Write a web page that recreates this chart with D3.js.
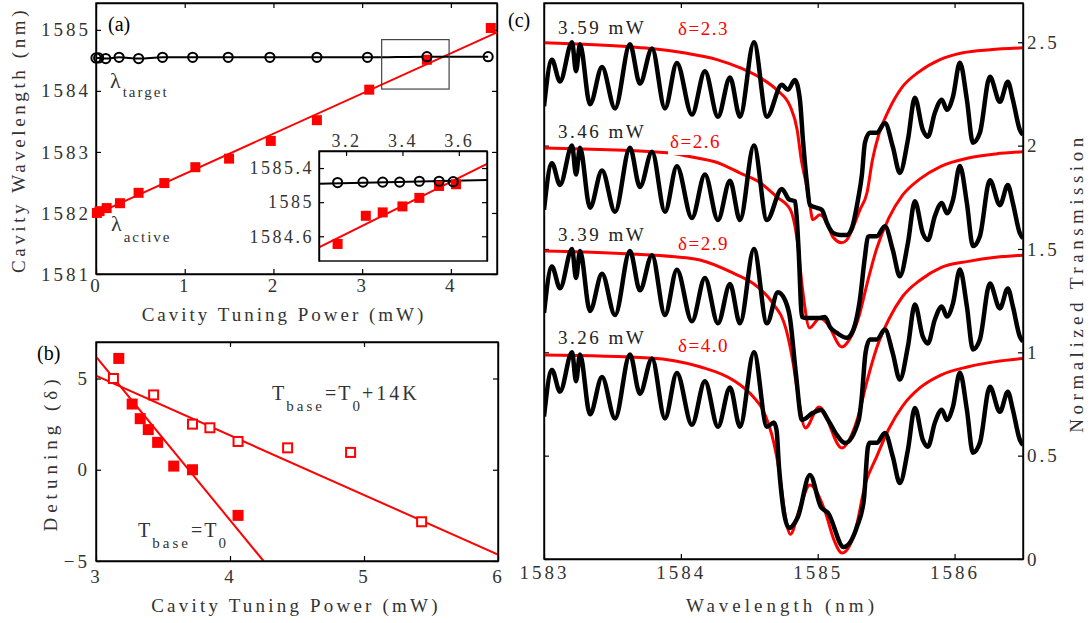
<!DOCTYPE html>
<html><head><meta charset="utf-8">
<script src="https://cdn.jsdelivr.net/npm/d3@7"></script>
<style>
body{margin:0;background:#fff;}
svg text{font-family:"Liberation Serif",serif;}
</style></head><body>
<svg id="c" width="1092" height="623"></svg>
<script>
// ---------------- DATA ----------------
// Panel (a) main
const activePower=[0.01,0.04,0.12,0.27,0.48,0.77,1.12,1.50,1.97,2.49,3.08,3.73,4.45];
const activeWL=[1582.00,1582.03,1582.08,1582.16,1582.33,1582.49,1582.75,1582.89,1583.18,1583.52,1584.02,1584.51,1585.03];
const targetPower=[0,0.03,0.11,0.26,0.48,0.75,1.09,1.49,1.96,2.49,3.06,3.73,4.42];
const targetWL=[1584.54,1584.54,1584.53,1584.55,1584.53,1584.55,1584.55,1584.55,1584.55,1584.55,1584.55,1584.56,1584.56];
const activeFitPower=[0,4.52];
const activeFitWL=[1581.98,1584.96];
const zoomBoxPower=[3.22,3.98];
const zoomBoxWL=[1584.03,1584.84];
const xTicksA=[0,1,2,3,4];
const yTicksA=[1581,1582,1583,1584,1585];
// Panel (a) inset
const insetActivePower=[3.17,3.27,3.33,3.40,3.46,3.53,3.59];
const insetActiveWL=[1584.51,1584.84,1584.88,1584.95,1585.05,1585.19,1585.21];
const insetTargetPower=[3.17,3.26,3.33,3.39,3.46,3.53,3.58];
const insetTargetWL=[1585.23,1585.235,1585.235,1585.235,1585.245,1585.245,1585.24];
const insetActiveFitPower=[3.104,3.70];
const insetActiveFitWL=[1584.47,1585.45];
const insetTargetFitPower=[3.104,3.70];
const insetTargetFitWL=[1585.215,1585.259];
const xTicksInset=[3.2,3.4,3.6];
const yTicksInset=[1584.6,1585,1585.4];
// Panel (b)
const baseT0Power=[3.17,3.27,3.33,3.39,3.46,3.58,3.72,4.06];
const baseT0Detuning=[6.1,3.6,2.8,2.2,1.5,0.2,0.0,-2.5];
const baseT14Power=[3.13,3.43,3.72,3.85,4.06,4.43,4.90,5.43];
const baseT14Detuning=[5.0,4.1,2.5,2.3,1.55,1.2,0.95,-2.85];
const fitT0Power=[3,4.25];
const fitT0Detuning=[6.2,-5];
const fitT14Power=[3,6];
const fitT14Detuning=[5.15,-4.65];
const xTicksB=[3,4,5,6];
const yTicksB=[-5,0,5];
// Panel (c): measured transmission (black), shared fringes + per-trace dip
const fringeLeft=[[1583.000,0.69],[1583.058,0.915],[1583.117,0.81],[1583.205,1.0],[1583.234,0.86],[1583.263,0.99],[1583.336,0.70],[1583.424,0.88],[1583.519,0.68],[1583.628,0.99],[1583.701,0.80],[1583.789,0.97],[1583.884,0.68],[1583.971,0.90],[1584.081,0.65],[1584.176,0.86],[1584.271,0.64],[1584.359,0.83],[1584.432,0.64],[1584.534,1.0],[1584.629,0.64]];
const fringeRight=[[1585.381,0.562],[1585.432,0.562],[1585.491,0.61],[1585.549,0.494],[1585.600,0.368],[1585.659,0.528],[1585.710,0.731],[1585.768,0.576],[1585.805,0.543],[1585.856,0.659],[1585.907,0.722],[1585.944,0.673],[1585.988,0.736],[1586.039,0.901],[1586.090,0.722],[1586.134,0.514],[1586.185,0.562],[1586.258,0.833],[1586.331,0.712],[1586.389,0.809],[1586.426,0.722],[1586.477,0.576],[1586.500,0.552]];
const dip359=[[1584.738,0.794],[1584.782,0.77],[1584.833,0.818],[1584.870,0.722],[1584.892,0.528],[1584.921,0.32],[1584.943,0.213],[1584.994,0.199],[1585.031,0.189],[1585.067,0.126],[1585.111,0.078],[1585.162,0.068],[1585.213,0.068],[1585.250,0.102],[1585.294,0.238],[1585.323,0.359],[1585.345,0.514]];
const dip346=[[1584.738,0.79],[1584.79,0.74],[1584.835,0.73],[1584.86,0.50],[1584.885,0.171],[1584.921,0.166],[1585.016,0.166],[1585.053,0.171],[1585.089,0.123],[1585.14,0.094],[1585.213,0.07],[1585.25,0.094],[1585.308,0.254],[1585.345,0.462],[1585.367,0.559]];
const dip339=[[1584.709,0.79],[1584.76,0.754],[1584.797,0.667],[1584.84,0.40],[1584.885,0.173],[1584.965,0.207],[1585.023,0.221],[1585.075,0.173],[1585.13,0.11],[1585.2,0.061],[1585.30,0.173],[1585.32,0.27],[1585.35,0.50]];
const dip326=[[1584.68,0.66],[1584.70,0.62],[1584.717,0.445],[1584.79,0.15],[1584.855,0.203],[1584.943,0.407],[1585.023,0.252],[1585.075,0.223],[1585.19,0.058],[1585.286,0.155],[1585.337,0.286],[1585.367,0.542]];
// Panel (c): model fits (red)
const fit359=[[1583.0,0.998],[1583.63,0.978],[1583.80,0.969],[1584.02,0.949],[1584.27,0.915],[1584.43,0.877],[1584.58,0.828],[1584.70,0.77],[1584.80,0.688],[1584.85,0.576],[1584.88,0.431],[1584.92,0.301],[1584.94,0.223],[1584.965,0.141],[1585.016,0.165],[1585.067,0.126],[1585.11,0.059],[1585.177,0.03],[1585.213,0.044],[1585.257,0.102],[1585.308,0.189],[1585.36,0.272],[1585.40,0.431],[1585.45,0.562],[1585.52,0.673],[1585.62,0.785],[1585.74,0.857],[1585.89,0.915],[1586.06,0.949],[1586.26,0.964],[1586.50,0.973]];
const fit346=[[1583.0,0.988],[1583.90,0.965],[1584.07,0.946],[1584.27,0.917],[1584.43,0.868],[1584.58,0.82],[1584.70,0.752],[1584.80,0.69],[1584.85,0.544],[1584.89,0.30],[1584.94,0.118],[1585.016,0.166],[1585.067,0.142],[1585.177,0.026],[1585.23,0.06],[1585.30,0.17],[1585.36,0.33],[1585.43,0.50],[1585.52,0.65],[1585.62,0.76],[1585.75,0.84],[1585.90,0.90],[1586.10,0.94],[1586.30,0.96],[1586.50,0.97]];
const fit339=[[1583.0,0.99],[1583.96,0.962],[1584.14,0.947],[1584.38,0.884],[1584.56,0.817],[1584.67,0.739],[1584.77,0.608],[1584.82,0.449],[1584.85,0.318],[1584.91,0.134],[1585.01,0.236],[1585.177,0.037],[1585.24,0.09],[1585.30,0.2],[1585.36,0.36],[1585.43,0.52],[1585.52,0.66],[1585.62,0.77],[1585.75,0.85],[1585.90,0.91],[1586.10,0.94],[1586.30,0.96],[1586.50,0.97]];
const fit326=[[1583.0,0.987],[1583.77,0.973],[1584.14,0.93],[1584.38,0.866],[1584.53,0.784],[1584.60,0.72],[1584.68,0.56],[1584.72,0.42],[1584.76,0.22],[1584.80,0.12],[1584.87,0.25],[1584.943,0.358],[1585.05,0.237],[1585.12,0.09],[1585.177,0.029],[1585.27,0.126],[1585.35,0.368],[1585.43,0.494],[1585.52,0.63],[1585.62,0.74],[1585.75,0.83],[1585.90,0.89],[1586.10,0.93],[1586.30,0.955],[1586.50,0.97]];
const traceOffsets=[1.5,1.0,0.5,0];
const powerLabels=["3.59 mW","3.46 mW","3.39 mW","3.26 mW"];
const deltaLabels=["\u03b4=2.3","\u03b4=2.6","\u03b4=2.9","\u03b4=4.0"];
const xTicksC=[1583,1584,1585,1586];
const yTicksC=[0,0.5,1,1.5,2,2.5];

// ---------------- DRAW ----------------
const svg=d3.select("#c");
const RED="#ff0000", TXT="#333";
const FONT='Liberation Serif';

function styleAxis(g,size,ls){
  g.attr("font-family",FONT);
  g.select(".domain").attr("stroke","#000").attr("stroke-width",1.4);
  g.selectAll(".tick line").attr("stroke","#000").attr("stroke-width",1.2);
  g.selectAll(".tick text").attr("fill",TXT).attr("font-family",FONT).style("font-size",size+"px")
   .style("letter-spacing",ls+"px");
}
function frame(x,y){
  svg.append("rect").attr("x",x.range()[0]).attr("y",y.range()[1])
    .attr("width",x.range()[1]-x.range()[0]).attr("height",y.range()[0]-y.range()[1])
    .attr("fill","none").attr("stroke","#000").attr("stroke-width",1.4);
}
function txt(x,y,s,o={}){
  const t=svg.append("text").attr("x",x).attr("y",y).attr("fill",o.fill||TXT).attr("font-family",FONT)
    .style("font-size",(o.size||18)+"px").style("letter-spacing",(o.ls||0)+"px")
    .attr("text-anchor",o.anchor||"start").text(s);
  if(o.rot) t.attr("transform",`rotate(${o.rot},${x},${y})`);
  return t;
}

// ===== Panel (a) =====
const xA=d3.scaleLinear().domain([0,4.52]).range([96,497]);
const yA=d3.scaleLinear().domain([1581,1585.44]).range([274,3]);
svg.append("g").attr("transform","translate(0,274)")
  .call(d3.axisBottom(xA).tickValues(xTicksA).tickSizeInner(-5).tickSizeOuter(0).tickPadding(5).tickFormat(d3.format("d")))
  .call(g=>styleAxis(g,19,3));
svg.append("g").attr("transform","translate(96,0)")
  .call(d3.axisLeft(yA).tickValues(yTicksA).tickSizeInner(-5).tickSizeOuter(0).tickPadding(5).tickFormat(d3.format("d")))
  .call(g=>styleAxis(g,19,3));
svg.append("g").attr("transform","translate(0,3)")
  .call(d3.axisTop(xA).tickValues(xTicksA).tickSizeInner(-5).tickSizeOuter(0).tickFormat(""))
  .call(g=>styleAxis(g,18,0));
svg.append("g").attr("transform","translate(497,0)")
  .call(d3.axisRight(yA).tickValues(yTicksA).tickSizeInner(-5).tickSizeOuter(0).tickFormat(""))
  .call(g=>styleAxis(g,18,0));
frame(xA,yA);

const lineA=d3.line().x(d=>xA(d[0])).y(d=>yA(d[1]));
svg.append("path").datum(activeFitPower.map((p,i)=>[p,activeFitWL[i]]))
  .attr("d",lineA).attr("fill","none").attr("stroke",RED).attr("stroke-width",2);
svg.append("path").datum(targetPower.map((p,i)=>[p,targetWL[i]]))
  .attr("d",lineA.curve(d3.curveMonotoneX)).attr("fill","none").attr("stroke","#000").attr("stroke-width",2);
svg.selectAll(".sqA").data(activePower.map((p,i)=>[p,activeWL[i]])).join("rect")
  .attr("x",d=>xA(d[0])-5).attr("y",d=>yA(d[1])-5).attr("width",10).attr("height",10).attr("fill",RED);
svg.selectAll(".cirA").data(targetPower.map((p,i)=>[p,targetWL[i]])).join("circle")
  .attr("cx",d=>xA(d[0])).attr("cy",d=>yA(d[1])).attr("r",4.6).attr("fill","none").attr("stroke","#000").attr("stroke-width",2);
svg.append("rect").attr("x",xA(zoomBoxPower[0])).attr("y",yA(zoomBoxWL[1]))
  .attr("width",xA(zoomBoxPower[1])-xA(zoomBoxPower[0])).attr("height",yA(zoomBoxWL[0])-yA(zoomBoxWL[1]))
  .attr("fill","none").attr("stroke","#444").attr("stroke-width",1.2);

txt(108,31,"(a)",{size:20,fill:"#000"});
let t=txt(110,88,"\u03bb",{size:22});
t.append("tspan").attr("dy",9).attr("dx",2).style("font-size","15px").style("letter-spacing","2px").text("target");
t=txt(111,231,"\u03bb",{size:22});
t.append("tspan").attr("dy",11).attr("dx",2).style("font-size","15px").style("letter-spacing","2px").text("active");
txt(25,140,"Cavity Wavelength (nm)",{size:19,ls:3.6,anchor:"middle",rot:-90});
txt(284,321,"Cavity Tuning Power (mW)",{size:19,ls:3,anchor:"middle"});

// inset
const xI=d3.scaleLinear().domain([3.104,3.70]).range([319,487]);
const yI=d3.scaleLinear().domain([1584.31,1585.6]).range([261,151]);
svg.append("rect").attr("x",319).attr("y",151).attr("width",168).attr("height",110).attr("fill","#fff");
svg.append("clipPath").attr("id","clipI").append("rect").attr("x",319).attr("y",151).attr("width",168).attr("height",110);
const lineI=d3.line().x(d=>xI(d[0])).y(d=>yI(d[1]));
svg.append("path").datum(insetActiveFitPower.map((p,i)=>[p,insetActiveFitWL[i]]))
  .attr("d",lineI).attr("fill","none").attr("stroke",RED).attr("stroke-width",2).attr("clip-path","url(#clipI)");
svg.append("path").datum(insetTargetFitPower.map((p,i)=>[p,insetTargetFitWL[i]]))
  .attr("d",lineI).attr("fill","none").attr("stroke","#000").attr("stroke-width",2);
svg.selectAll(".sqI").data(insetActivePower.map((p,i)=>[p,insetActiveWL[i]])).join("rect")
  .attr("x",d=>xI(d[0])-5).attr("y",d=>yI(d[1])-5).attr("width",10).attr("height",10).attr("fill",RED);
svg.selectAll(".cirI").data(insetTargetPower.map((p,i)=>[p,insetTargetWL[i]])).join("circle")
  .attr("cx",d=>xI(d[0])).attr("cy",d=>yI(d[1])).attr("r",4.6).attr("fill","none").attr("stroke","#000").attr("stroke-width",2);
svg.append("g").attr("transform","translate(0,151)")
  .call(d3.axisTop(xI).tickValues(xTicksInset).tickSizeInner(-5).tickSizeOuter(0).tickPadding(4).tickFormat(d=>String(d)))
  .call(g=>styleAxis(g,18,2.5));
svg.append("g").attr("transform","translate(319,0)")
  .call(d3.axisLeft(yI).tickValues(yTicksInset).tickSizeInner(-5).tickSizeOuter(0).tickPadding(5).tickFormat(d=>String(d)))
  .call(g=>styleAxis(g,18,2.5));
svg.append("g").attr("transform","translate(487,0)")
  .call(d3.axisRight(yI).tickValues(yTicksInset).tickSizeInner(-5).tickSizeOuter(0).tickFormat(""))
  .call(g=>styleAxis(g,18,0));
frame(xI,yI);

// ===== Panel (b) =====
const xB=d3.scaleLinear().domain([3,6]).range([96,498]);
const yB=d3.scaleLinear().domain([-5,7]).range([561,342]);
svg.append("g").attr("transform","translate(0,561)")
  .call(d3.axisBottom(xB).tickValues(xTicksB).tickSizeInner(-5).tickSizeOuter(0).tickPadding(9).tickFormat(d3.format("d")))
  .call(g=>styleAxis(g,19,3));
svg.append("g").attr("transform","translate(96,0)")
  .call(d3.axisLeft(yB).tickValues(yTicksB).tickSizeInner(-5).tickSizeOuter(0).tickPadding(6).tickFormat(d=>d<0?"\u2212"+Math.abs(d):String(d)))
  .call(g=>styleAxis(g,19,3));
svg.append("g").attr("transform","translate(0,342)")
  .call(d3.axisTop(xB).tickValues(xTicksB).tickSizeInner(-5).tickSizeOuter(0).tickFormat(""))
  .call(g=>styleAxis(g,18,0));
svg.append("g").attr("transform","translate(498,0)")
  .call(d3.axisRight(yB).tickValues(yTicksB).tickSizeInner(-5).tickSizeOuter(0).tickFormat(""))
  .call(g=>styleAxis(g,18,0));
svg.append("clipPath").attr("id","clipB").append("rect").attr("x",96).attr("y",342).attr("width",402).attr("height",219);
const lineB=d3.line().x(d=>xB(d[0])).y(d=>yB(d[1]));
svg.append("path").datum(fitT0Power.map((p,i)=>[p,fitT0Detuning[i]])).attr("d",lineB)
  .attr("fill","none").attr("stroke",RED).attr("stroke-width",2).attr("clip-path","url(#clipB)");
svg.append("path").datum(fitT14Power.map((p,i)=>[p,fitT14Detuning[i]])).attr("d",lineB)
  .attr("fill","none").attr("stroke",RED).attr("stroke-width",2).attr("clip-path","url(#clipB)");
svg.selectAll(".sqB").data(baseT0Power.map((p,i)=>[p,baseT0Detuning[i]])).join("rect")
  .attr("x",d=>xB(d[0])-5.5).attr("y",d=>yB(d[1])-5.5).attr("width",11).attr("height",11).attr("fill",RED);
svg.selectAll(".osqB").data(baseT14Power.map((p,i)=>[p,baseT14Detuning[i]])).join("rect")
  .attr("x",d=>xB(d[0])-4.5).attr("y",d=>yB(d[1])-4.5).attr("width",9).attr("height",9)
  .attr("fill","#fff").attr("stroke",RED).attr("stroke-width",2);
frame(xB,yB);
txt(37,360,"(b)",{size:20,fill:"#000"});
txt(57,453,"Detuning (\u03b4)",{size:19,ls:5,anchor:"middle",rot:-90});
txt(296,612,"Cavity Tuning Power (mW)",{size:19,ls:3.2,anchor:"middle"});
t=txt(272,400,"T",{size:20,ls:2});
t.append("tspan").attr("dy",11).style("font-size","15px").style("letter-spacing","3px").text("base");
t.append("tspan").attr("dy",-11).style("font-size","20px").style("letter-spacing","2px").text("=T");
t.append("tspan").attr("dy",11).style("font-size","15px").text("0");
t.append("tspan").attr("dy",-11).style("font-size","20px").style("letter-spacing","3px").text("+14K");
t=txt(138,537,"T",{size:20,ls:2});
t.append("tspan").attr("dy",11).style("font-size","15px").style("letter-spacing","3px").text("base");
t.append("tspan").attr("dy",-11).style("font-size","20px").style("letter-spacing","2px").text("=T");
t.append("tspan").attr("dy",11).style("font-size","15px").text("0");

// ===== Panel (c) =====
const xC=d3.scaleLinear().domain([1583,1586.5]).range([544,1023]);
const yC=d3.scaleLinear().domain([0,2.69]).range([559,3]);
svg.append("g").attr("transform","translate(0,559)")
  .call(d3.axisBottom(xC).tickValues(xTicksC).tickSizeInner(-5).tickSizeOuter(0).tickPadding(7).tickFormat(d3.format("d")))
  .call(g=>styleAxis(g,19,3));
svg.append("g").attr("transform","translate(0,3)")
  .call(d3.axisTop(xC).tickValues(xTicksC).tickSizeInner(-5).tickSizeOuter(0).tickFormat(""))
  .call(g=>styleAxis(g,18,0));
svg.append("g").attr("transform","translate(1023,0)")
  .call(d3.axisRight(yC).tickValues(yTicksC).tickSizeInner(-5).tickSizeOuter(0).tickPadding(4).tickFormat(d=>String(d)))
  .call(g=>styleAxis(g,19,3));
svg.append("g").attr("transform","translate(544,0)")
  .call(d3.axisLeft(yC).tickValues(yTicksC).tickSizeInner(-5).tickSizeOuter(0).tickFormat(""))
  .call(g=>styleAxis(g,18,0));
svg.append("clipPath").attr("id","clipC").append("rect").attr("x",544).attr("y",3).attr("width",479).attr("height",556);

const fits=[fit359,fit346,fit339,fit326];
const dips=[dip359,dip346,dip339,dip326];
traceOffsets.forEach((off,i)=>{
  const ln=d3.line().curve(d3.curveMonotoneX).x(d=>xC(d[0])).y(d=>yC(d[1]+off));
  svg.append("path").datum(fits[i]).attr("d",ln).attr("fill","none").attr("stroke",RED)
    .attr("stroke-width",3).attr("stroke-linejoin","round").attr("clip-path","url(#clipC)");
});
// white label box that interrupts the second fit curve, as in the reference
svg.append("rect").attr("x",668).attr("y",128).attr("width",22).attr("height",27).attr("fill","#fff");
traceOffsets.forEach((off,i)=>{
  const ln=d3.line().curve(d3.curveMonotoneX).x(d=>xC(d[0])).y(d=>yC(d[1]+off));
  const pts=fringeLeft.concat(dips[i],fringeRight);
  svg.append("path").datum(pts).attr("d",ln).attr("fill","none").attr("stroke","#000")
    .attr("stroke-width",4.5).attr("stroke-linejoin","round").attr("clip-path","url(#clipC)");
});
frame(xC,yC);
const deltaPos=[[678,35],[670,148],[678,250],[678,352]];
traceOffsets.forEach((off,i)=>{
  txt(558,yC(1+off)-8,powerLabels[i],{size:19,ls:2.5,fill:"#222"});
  txt(deltaPos[i][0],deltaPos[i][1],deltaLabels[i],{size:19,ls:1.5,fill:RED});
});
txt(508,27,"(c)",{size:20,fill:"#000"});
txt(782,612,"Wavelength (nm)",{size:19,ls:4,anchor:"middle"});
txt(1083,283,"Normalized Transmission",{size:19,ls:4.5,anchor:"middle",rot:-90});
</script></body></html>
